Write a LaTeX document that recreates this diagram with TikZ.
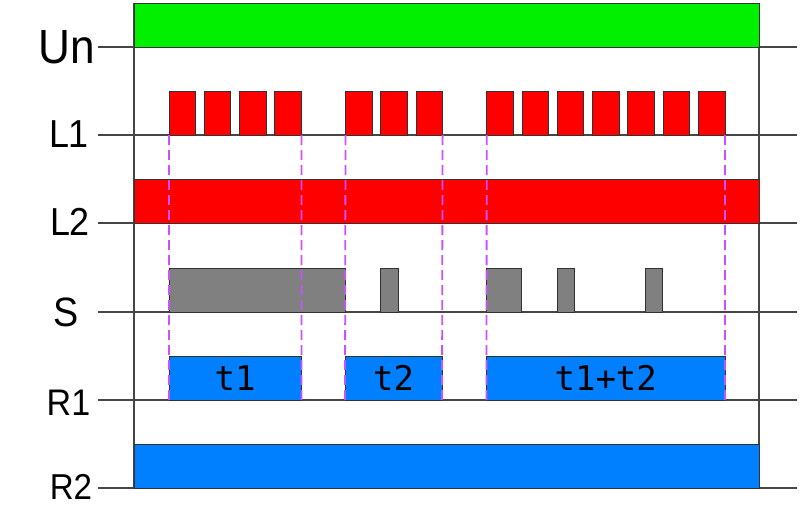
\documentclass[tikz,border=0pt]{standalone}
\usepackage{fontspec}
\usepackage{graphicx}
\newfontfamily\labfont{Liberation Sans}
\newfontfamily\boxfont{DejaVu Sans Mono}
\definecolor{axisgray}{RGB}{70,70,70}
\definecolor{edgegray}{RGB}{50,50,50}
\definecolor{ungreen}{RGB}{0,240,0}
\definecolor{sigred}{RGB}{255,0,0}
\definecolor{siggray}{RGB}{128,128,128}
\definecolor{sigblue}{RGB}{0,128,255}
\definecolor{cutviolet}{RGB}{204,80,255}
\newcommand{\labtxt}[2]{\fontsize{#1}{#1}\selectfont\scalebox{0.92}[1]{#2}}
\begin{document}
\begin{tikzpicture}[x=1pt,y=-1pt,
  axisline/.style={draw=axisgray, line width=1.2pt},
  sig/.style={draw=edgegray, line width=0.9pt, inner sep=0pt, outer sep=0pt, anchor=south west, minimum height=44pt},
  lab/.style={font=\labfont, inner sep=0pt},
  boxtxt/.style={font=\boxfont\fontsize{34}{34}\selectfont},
  cutline/.style={draw=cutviolet, line width=1.8pt, dash pattern=on 10pt off 5pt}
]
\useasboundingbox (0,0) rectangle (800,506);

% labels
\node[lab] (lUn) at (67,47.5) {\labtxt{48}{Un}};
\node[lab] (lL1) at (69,134) {\labtxt{39}{L1}};
\node[lab] (lL2) at (70,222) {\labtxt{39}{L2}};
\node[lab] (lS)  at (66,312.5) {\labtxt{41}{S}};
\node[lab] (lR1) at (68.5,403) {\labtxt{37}{R1}};
\node[lab] (lR2) at (71,487) {\labtxt{36}{R2}};

% frame and baselines
\draw[axisline] (134,3) -- (134,488);
\draw[axisline] (759,3) -- (759,488);
\foreach \yy in {47,135,223,312,400,488}
  \draw[axisline] (98,\yy) -- (797,\yy);

% Un
\node[sig, fill=ungreen, minimum width=625pt] (un) at (134,47) {};
% L1 pulses
\foreach \k in {0,1,2,3,5,6,7,9,10,11,12,13,14,15}
  \node[sig, fill=sigred, minimum width=26.5pt] (p\k) at ({169+35.3*\k},135) {};
% L2
\node[sig, fill=sigred, minimum width=625pt] (l2) at (134,223) {};
% S
\node[sig, fill=siggray, minimum width=176pt] (s1) at (169,312) {};
\node[sig, fill=siggray, minimum width=18pt] (s2) at (380,312) {};
\node[sig, fill=siggray, minimum width=35pt] (s3) at (486.5,312) {};
\node[sig, fill=siggray, minimum width=17.5pt] (s4) at (557,312) {};
\node[sig, fill=siggray, minimum width=17.7pt] (s5) at (645,312) {};
% R1
\node[sig, fill=sigblue, minimum width=132.4pt] (ra) at (169,400) {};
\node[sig, fill=sigblue, minimum width=97pt] (rb) at (345,400) {};
\node[sig, fill=sigblue, minimum width=238.5pt] (rc) at (486.5,400) {};
\node[boxtxt] (ta) at (ra.center) {t1};
\node[boxtxt] (tb) at (rb.center) {t2};
\node[boxtxt] (tc) at (rc.center) {t1+t2};
% R2
\node[sig, fill=sigblue, minimum width=625pt] (r2) at (134,488) {};

% dashed guides
\draw[cutline] (p0.south west) -- (ra.south west);
\draw[cutline] (p3.south east) -- (ra.south east);
\draw[cutline] (p5.south west) -- (rb.south west);
\draw[cutline] (p7.south east) -- (rb.south east);
\draw[cutline] (p9.south west) -- (rc.south west);
\draw[cutline] (p15.south east) -- (rc.south east);
\end{tikzpicture}
\end{document}
